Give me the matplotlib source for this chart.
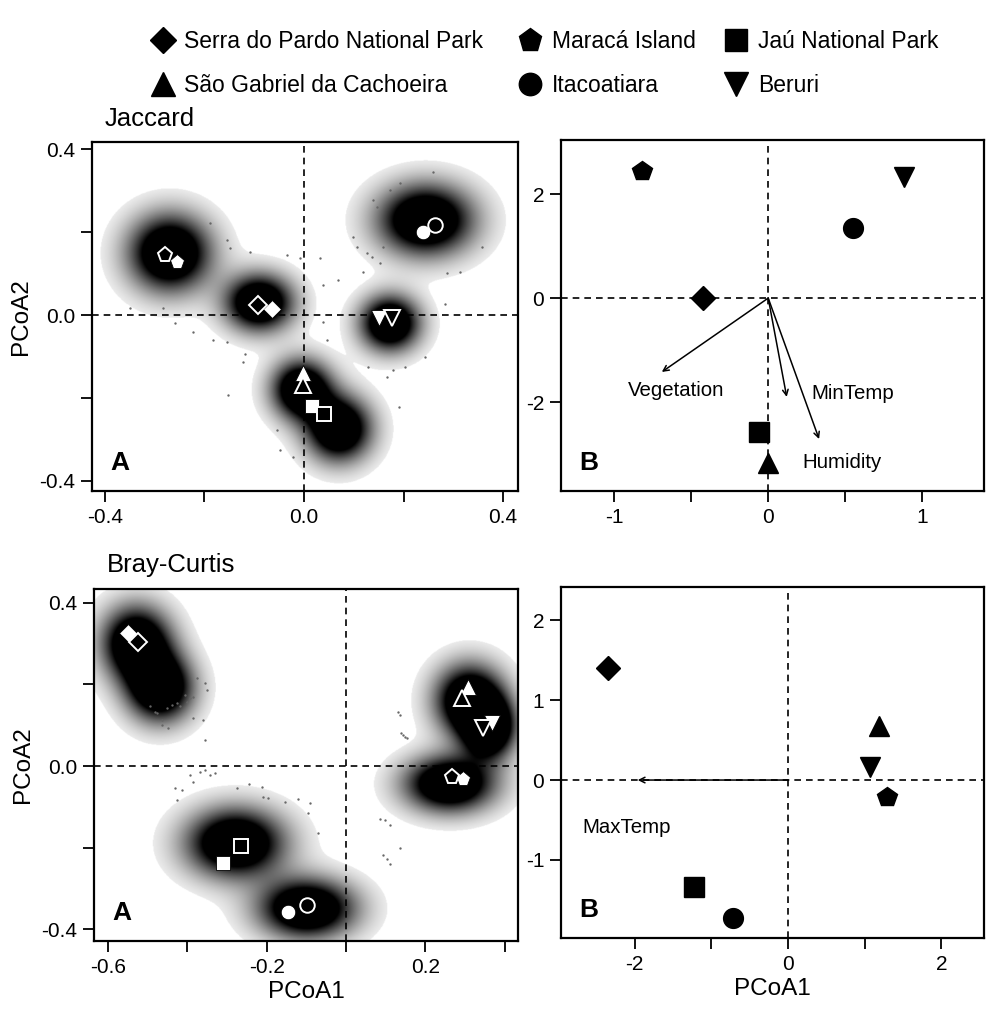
import numpy as np
import matplotlib
matplotlib.use('Agg')
import matplotlib.pyplot as plt
from matplotlib.lines import Line2D

plt.rcParams['font.family'] = ['Liberation Sans', 'DejaVu Sans']

# sites and their symbols (same order in every list below)
sites = ['Serra do Pardo National Park', 'Maracá Island', 'Jaú National Park',
         'São Gabriel da Cachoeira', 'Itacoatiara', 'Beruri']
markers = ['D', 'p', 's', '^', 'o', 'v']
msize = [0.8, 1.0, 0.95, 1.0, 0.95, 1.0]   # relative size of each symbol

# ---- Jaccard PCoA (panel A) ----
jac_fill_x = [-0.064, -0.255, 0.016, -0.002, 0.239, 0.151]
jac_fill_y = [0.014, 0.128, -0.220, -0.140, 0.200, -0.007]
jac_open_x = [-0.092, -0.279, 0.040, -0.002, 0.263, 0.177]
jac_open_y = [0.024, 0.145, -0.240, -0.170, 0.218, -0.007]
# density blobs read from the shading (centre, spread)
jac_blob_x = [-0.270, -0.090, 0.245, 0.173, -0.005, 0.070]
jac_blob_y = [0.150, 0.030, 0.230, -0.020, -0.180, -0.275]
jac_blob_sx = [0.057, 0.047, 0.066, 0.041, 0.041, 0.045]
jac_blob_sy = [0.064, 0.047, 0.059, 0.046, 0.049, 0.054]
jac_dot_x = [-0.189, -0.155, -0.149, -0.109, -0.035, -0.008, 0.032, 0.039, 0.069,
             0.099, 0.106, 0.119, 0.126, 0.139, 0.146, 0.136, 0.153, 0.159, 0.173,
             0.193, 0.260, 0.287, 0.314, 0.357, -0.350, -0.283, -0.259, -0.223,
             -0.182, -0.155, -0.119, -0.122, -0.152, -0.055, -0.048, -0.022, 0.039,
             0.046, 0.129, 0.179, 0.203, 0.166, 0.190, 0.243, 0.283]
jac_dot_y = [0.222, 0.181, 0.161, 0.153, 0.145, 0.137, 0.137, 0.073, 0.085,
             0.189, 0.165, 0.105, 0.149, 0.278, 0.262, 0.141, 0.125, 0.165, 0.302,
             0.318, 0.346, 0.101, 0.105, 0.165, 0.016, 0.016, -0.020, -0.040,
             -0.060, -0.065, -0.093, -0.113, -0.193, -0.278, -0.326, -0.342, -0.016,
             -0.060, -0.125, -0.133, -0.125, -0.149, -0.222, -0.101, 0.028]

# ---- Bray-Curtis PCoA (panel A) ----
bc_fill_x = [-0.550, 0.295, -0.310, 0.308, -0.146, 0.368]
bc_fill_y = [0.326, -0.032, -0.238, 0.194, -0.358, 0.106]
bc_open_x = [-0.525, 0.267, -0.265, 0.293, -0.098, 0.346]
bc_open_y = [0.304, -0.027, -0.196, 0.167, -0.341, 0.093]
bc_blob_x = [-0.530, -0.470, 0.310, 0.360, 0.260, -0.280, -0.100]
bc_blob_y = [0.300, 0.190, 0.160, 0.090, -0.045, -0.190, -0.350]
bc_blob_sx = [0.060, 0.057, 0.060, 0.045, 0.078, 0.085, 0.083]
bc_blob_sy = [0.062, 0.057, 0.060, 0.050, 0.047, 0.058, 0.050]
bc_dot_x = [-0.494, -0.482, -0.477, -0.465, -0.452, -0.440, -0.427, -0.419, -0.406,
            -0.402, -0.393, -0.385, -0.377, -0.356, -0.351, -0.385, -0.360, -0.356,
            -0.448, -0.465, -0.393, -0.368, -0.356, -0.343, -0.330, -0.385, -0.431,
            -0.414, -0.427, -0.276, -0.246, -0.213, -0.209, -0.196, -0.154, -0.120,
            -0.091, -0.095, -0.070, 0.132, 0.136, 0.145, 0.149, 0.140, 0.153, 0.086,
            0.098, 0.111, 0.094, 0.103, 0.111, 0.136]
bc_dot_y = [0.146, 0.133, 0.129, 0.113, 0.142, 0.150, 0.154, 0.146, 0.174,
            0.158, 0.166, 0.170, 0.215, 0.203, 0.187, 0.117, 0.113, 0.064,
            0.093, 0.101, -0.022, -0.014, -0.010, -0.022, -0.018, -0.039, -0.055,
            -0.059, -0.083, -0.055, -0.044, -0.051, -0.077, -0.079, -0.088, -0.081,
            -0.090, -0.115, -0.163, 0.133, 0.125, 0.076, 0.072, 0.080, 0.068, -0.131,
            -0.133, -0.145, -0.218, -0.229, -0.239, -0.202]

# ---- environmental ordinations (panel B) ----
jenv_x = [-0.42, -0.82, -0.06, 0.00, 0.55, 0.88]
jenv_y = [0.00, 2.44, -2.57, -3.17, 1.35, 2.33]
jvec_names = ['Vegetation', 'MinTemp', 'Humidity']
jvec_x = [-0.69, 0.12, 0.33]
jvec_y = [-1.42, -1.90, -2.71]

benv_x = [-2.35, 1.29, -1.23, 1.19, -0.72, 1.07]
benv_y = [1.41, -0.21, -1.34, 0.68, -1.73, 0.16]
bvec_names = ['MaxTemp']
bvec_x = [-1.96]
bvec_y = [0.0]


def shade(ax, bx, by, bsx, bsy, xlim, ylim):
    xs = np.linspace(xlim[0], xlim[1], 600)
    ys = np.linspace(ylim[0], ylim[1], 600)
    X, Y = np.meshgrid(xs, ys)
    d = np.zeros_like(X)
    for cx, cy, sx, sy in zip(bx, by, bsx, bsy):
        d += np.exp(-0.5 * (((X - cx) / sx) ** 2 + ((Y - cy) / sy) ** 2))
    g = 0.92 * np.clip((0.62 - d) / 0.57, 0, 1) ** 0.95
    g = np.where(d < 0.05, 1.0, g)
    ax.imshow(g, cmap='gray', vmin=0, vmax=1, origin='lower', aspect='auto',
              extent=[xlim[0], xlim[1], ylim[0], ylim[1]],
              interpolation='bilinear', zorder=0)


def style(ax, xlim, ylim):
    ax.set_xlim(xlim)
    ax.set_ylim(ylim)
    ax.axhline(0, color='black', ls=(0, (4, 3)), lw=1.2, zorder=1)
    ax.axvline(0, color='black', ls=(0, (4, 3)), lw=1.2, zorder=1)
    for s in ax.spines.values():
        s.set_linewidth(1.6)
    ax.tick_params(direction='out', length=8, width=1.3, labelsize=15, pad=4)


def pcoa_panel(ax, fx, fy, ox, oy, bx, by, bsx, bsy, dx, dy, xlim, ylim):
    shade(ax, bx, by, bsx, bsy, xlim, ylim)
    style(ax, xlim, ylim)
    ax.plot(dx, dy, ls='none', marker='.', ms=1.4, color='#666666', zorder=2)
    for i, m in enumerate(markers):
        ax.plot(fx[i], fy[i], marker=m, ms=11 * msize[i], mfc='white',
                mec='black', mew=0.6, ls='none', zorder=3)
        ax.plot(ox[i], oy[i], marker=m, ms=11 * msize[i], mfc='black',
                mec='white', mew=1.4, ls='none', zorder=4)
    ax.text(0.065, 0.08, 'A', transform=ax.transAxes, fontsize=19,
            fontweight='bold', ha='center', va='center', zorder=5)


def env_panel(ax, ex, ey, vn, vx, vy, lab_xy, xlim, ylim):
    style(ax, xlim, ylim)
    for i, m in enumerate(markers):
        ax.plot(ex[i], ey[i], marker=m, ms=15 * msize[i], color='black',
                ls='none', zorder=3)
    for name, x, y, (tx, ty) in zip(vn, vx, vy, lab_xy):
        ax.annotate('', xy=(x, y), xytext=(0, 0),
                    arrowprops=dict(arrowstyle='->', lw=1.1, color='black',
                                    mutation_scale=10, shrinkA=0, shrinkB=0))
        ax.text(tx, ty, name, fontsize=14.7, ha='center', va='center')
    ax.text(0.065, 0.08, 'B', transform=ax.transAxes, fontsize=19,
            fontweight='bold', ha='center', va='center', zorder=5)


fig = plt.figure(figsize=(9.87, 10.11), dpi=100)
ax1 = fig.add_axes([0.0932, 0.5143, 0.4316, 0.3452])
ax2 = fig.add_axes([0.5684, 0.5143, 0.4286, 0.3472])
ax3 = fig.add_axes([0.0952, 0.0692, 0.4296, 0.3482])
ax4 = fig.add_axes([0.5684, 0.0722, 0.4286, 0.3472])

pcoa_panel(ax1, jac_fill_x, jac_fill_y, jac_open_x, jac_open_y,
           jac_blob_x, jac_blob_y, jac_blob_sx, jac_blob_sy,
           jac_dot_x, jac_dot_y, (-0.426, 0.430), (-0.425, 0.418))
ax1.set_xticks([-0.4, -0.2, 0, 0.2, 0.4], ['-0.4', '', '0.0', '', '0.4'])
ax1.set_yticks([-0.4, -0.2, 0, 0.2, 0.4], ['-0.4', '', '0.0', '', '0.4'])
ax1.set_ylabel('PCoA2', fontsize=17.5, labelpad=5)
ax1.text(0.03, 1.045, 'Jaccard', transform=ax1.transAxes, fontsize=18.5,
         ha='left', va='baseline')

env_panel(ax2, jenv_x, jenv_y, jvec_names, jvec_x, jvec_y,
          [(-0.60, -1.78), (0.55, -1.83), (0.48, -3.17)],
          (-1.344, 1.40), (-3.71, 3.04))
ax2.set_xticks([-1, -0.5, 0, 0.5, 1], ['-1', '', '0', '', '1'])
ax2.set_yticks([-2, 0, 2], ['-2', '0', '2'])

pcoa_panel(ax3, bc_fill_x, bc_fill_y, bc_open_x, bc_open_y,
           bc_blob_x, bc_blob_y, bc_blob_sx, bc_blob_sy,
           bc_dot_x, bc_dot_y, (-0.636, 0.434), (-0.429, 0.434))
ax3.set_xticks([-0.6, -0.4, -0.2, 0, 0.2, 0.4], ['-0.6', '', '-0.2', '', '0.2', ''])
ax3.set_yticks([-0.4, -0.2, 0, 0.2, 0.4], ['-0.4', '', '0.0', '', '0.4'])
ax3.set_ylabel('PCoA2', fontsize=17.5, labelpad=5)
ax3.set_xlabel('PCoA1', fontsize=17.5, labelpad=3)
ax3.text(0.03, 1.048, 'Bray-Curtis', transform=ax3.transAxes, fontsize=18.5,
         ha='left', va='baseline')

env_panel(ax4, benv_x, benv_y, bvec_names, bvec_x, bvec_y,
          [(-2.10, -0.59)], (-2.96, 2.555), (-1.98, 2.42))
ax4.set_xticks([-2, -1, 0, 1, 2], ['-2', '', '0', '', '2'])
ax4.set_yticks([-1, 0, 1, 2], ['-1', '0', '1', '2'])
ax4.set_xlabel('PCoA1', fontsize=17.5, labelpad=3)

# legend: three columns of two entries
col_x = [0.137, 0.509, 0.718]
for c in range(3):
    handles = []
    for i in (c, c + 3):
        handles.append(Line2D([], [], marker=markers[i], color='black', ls='none',
                              ms=17 * msize[i], label=sites[i]))
    fig.legend(handles=handles, loc='upper left', bbox_to_anchor=(col_x[c], 0.986),
               frameon=False, fontsize=16.5, handletextpad=0.45, labelspacing=0.9,
               borderpad=0.2, handlelength=1.0)

fig.savefig('out.png', dpi=100)
